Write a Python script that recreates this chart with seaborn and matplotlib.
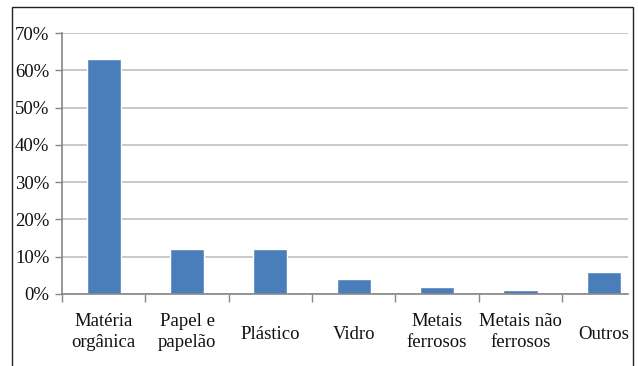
import matplotlib
matplotlib.use("Agg")
import matplotlib.pyplot as plt
from matplotlib.patches import Rectangle
from matplotlib.ticker import FixedLocator, FuncFormatter
import seaborn as sns
import pandas as pd

categories = ["Matéria\norgânica", "Papel e\npapelão", "Plástico", "Vidro",
              "Metais\nferrosos", "Metais não\nferrosos", "Outros"]
shares = [63, 12, 12, 4, 2, 1, 6]
y_ticks = [0, 10, 20, 30, 40, 50, 60, 70]

sns.set_theme(style="white")
plt.rcParams["font.family"] = ["Liberation Serif", "DejaVu Serif"]

df = pd.DataFrame({"categoria": categories, "percentual": shares})

W, H = 638, 366
fig = plt.figure(figsize=(W / 100, H / 100), dpi=100)
fig.patch.set_facecolor("white")

# outer frame around the chart area
fig.add_artist(Rectangle((12 / W, -0.05), (633 - 12) / W, 1.05 - 7 / H,
                         transform=fig.transFigure, fill=False,
                         edgecolor="#222222", linewidth=1.0))

ax = fig.add_axes([62 / W, 1 - 294 / H, (628 - 62) / W, (294 - 33) / H])
sns.barplot(data=df, x="categoria", y="percentual", color="#4A7EBB",
            saturation=1, width=0.41, ax=ax)

ax.set_ylim(0, 70)
ax.set_xlim(-0.5, 6.29)
ax.yaxis.set_major_locator(FixedLocator(y_ticks))
ax.yaxis.set_major_formatter(FuncFormatter(lambda v, p: f"{v:.0f}%"))
ax.grid(axis="y", color="#BFBFBF", linewidth=1.2)
ax.set_axisbelow(True)

for s in ["top", "right"]:
    ax.spines[s].set_visible(False)
for s in ["left", "bottom"]:
    ax.spines[s].set_color("#868686")
    ax.spines[s].set_linewidth(1.2)

ax.set_xlabel("")
ax.set_ylabel("")
ax.tick_params(axis="y", which="major", length=5, width=1, color="#868686",
               labelsize=13.5, pad=4, left=True, labelcolor="#111111")
ax.tick_params(axis="x", which="major", length=0, labelsize=13.5, pad=14,
               labelcolor="#111111")
ax.set_xticks(range(len(categories)))
ax.set_xticklabels(categories, linespacing=1.3)
for lbl in ax.get_xticklabels():
    lbl.set_verticalalignment("top")
ax.xaxis.set_minor_locator(FixedLocator([i - 0.5 for i in range(len(categories) + 1)]))
ax.tick_params(axis="x", which="minor", bottom=True, length=6, width=1,
               color="#868686")

# center single-line and two-line labels on the same row
for lbl in ax.get_xticklabels():
    if "\n" not in lbl.get_text():
        lbl.set_y(-0.05)

fig.savefig("out.png", dpi=100, facecolor="white")
